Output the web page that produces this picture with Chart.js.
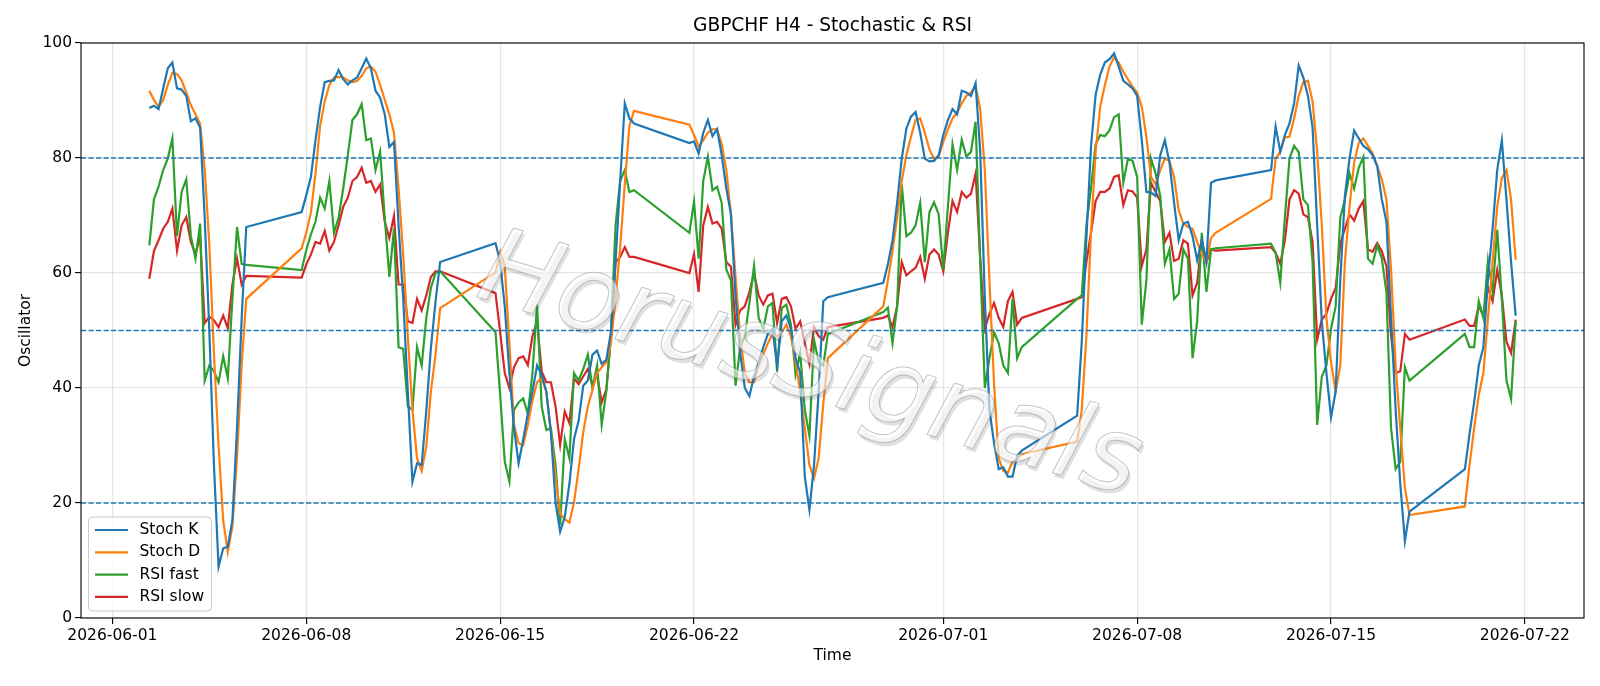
<!DOCTYPE html>
<html>
<head>
<meta charset="utf-8">
<script src="https://cdn.jsdelivr.net/npm/chart.js@4.4.1/dist/chart.umd.min.js"></script>
<style>
  html, body { margin: 0; padding: 0; background: #fff; }
  canvas { display: block; }
</style>
</head>
<body>
<canvas id="chart" width="1600" height="686"></canvas>
<script>
// GBPCHF H4 - Stochastic & RSI

// 4H sessions: first bar of each trading week and number of bars in it
var sessionStarts = ['2026-06-02T08:00Z', '2026-06-07T20:00Z', '2026-06-14T20:00Z', '2026-06-21T20:00Z',
                     '2026-06-28T20:00Z', '2026-07-05T20:00Z', '2026-07-12T20:00Z', '2026-07-19T20:00Z'];
var sessionBars = [22, 31, 31, 31, 31, 31, 31, 12];

var tickDates = ['2026-06-01', '2026-06-08', '2026-06-15', '2026-06-22',
                 '2026-07-01', '2026-07-08', '2026-07-15', '2026-07-22'];
var yTicks = [0, 20, 40, 60, 80, 100];
var refLevels = [80, 50, 20];

var stochK = [
  88.7, 89.1, 88.5, 92.1, 95.6, 96.6, 92.1, 91.9, 90.8, 86.4, 86.9, 85.3, 69.6, 50.0, 26.6, 8.9, 12.1, 12.4, 17.0, 33.0, 52.0, 68.0,
  70.6, 73.5, 76.7, 83.1, 88.9, 93.2, 93.4, 93.5, 95.3, 93.7, 92.8, 93.5, 94.0, 95.6, 97.3, 95.6, 91.7, 90.5, 87.6, 81.9, 82.8, 68.3, 55.5, 39.4, 23.7, 26.9, 26.6, 36.0, 47.0, 55.0, 61.9,
  65.2, 61.9, 54.2, 42.6, 33.0, 26.9, 31.1, 35.5, 39.4, 43.9, 42.3, 39.4, 32.3, 20.1, 15.0, 17.6, 23.3, 31.1, 34.3, 40.4, 41.3, 45.8, 46.5, 44.2, 44.9, 49.7, 61.9, 76.0, 89.5, 86.9, 86.0,
  82.6, 82.9, 80.8, 84.4, 86.6, 83.8, 85.0, 80.5, 74.7, 70.2, 56.0, 46.0, 40.0, 38.6, 42.0, 44.5, 47.1, 49.4, 50.3, 43.9, 51.6, 52.6, 50.3, 45.2, 42.6, 24.6, 18.8, 26.6, 39.4, 55.1, 55.8,
  58.3, 61.5, 65.7, 72.2, 79.9, 85.1, 87.2, 88.0, 84.4, 79.9, 79.4, 79.5, 80.5, 84.0, 86.6, 88.5, 87.6, 91.7, 91.4, 90.8, 93.0, 81.1, 55.5, 36.2, 30.4, 25.9, 26.2, 24.6, 24.6, 28.2, 29.1,
  35.2, 48.0, 66.0, 82.0, 91.0, 94.5, 96.6, 97.2, 98.2, 95.9, 93.4, 92.8, 92.1, 90.8, 83.1, 74.1, 74.0, 73.4, 80.5, 83.1, 79.2, 72.2, 65.7, 68.6, 68.9, 66.4, 62.2, 65.7, 61.9, 75.7, 76.1,
  77.9, 85.5, 81.1, 84.0, 86.0, 89.5, 96.1, 94.0, 90.8, 85.3, 68.3, 51.6, 42.6, 34.9, 39.4, 58.7, 73.4, 79.9, 84.8, 83.4, 82.1, 81.5, 80.5, 78.6, 72.8, 68.9, 52.2, 36.2, 23.3, 13.4, 18.5,
  25.9, 32.0, 37.5, 43.9, 47.1, 59.0, 67.7, 77.9, 83.1, 72.8, 61.9, 52.6
];
var stochD = [
  91.7, 90.1, 88.9, 90.1, 92.7, 94.8, 94.6, 93.5, 91.4, 89.2, 87.6, 86.0, 78.0, 65.0, 46.0, 30.0, 17.0, 11.5, 16.0, 28.0, 44.0, 55.5,
  64.3, 67.0, 70.5, 77.3, 85.6, 89.8, 92.7, 94.0, 94.1, 94.0, 93.5, 93.2, 93.4, 94.3, 95.6, 95.9, 95.0, 92.7, 90.1, 87.6, 84.4, 74.7, 63.2, 49.0, 36.2, 27.8, 25.6, 29.8, 39.4, 45.8, 53.9,
  60.1, 63.7, 61.2, 47.8, 33.6, 30.4, 30.1, 33.6, 37.8, 41.0, 41.7, 39.4, 32.3, 24.6, 18.2, 17.2, 16.6, 20.1, 25.9, 32.3, 36.8, 39.7, 42.6, 43.6, 44.5, 47.8, 55.5, 64.5, 75.4, 85.6, 88.2,
  85.8, 84.0, 82.0, 83.1, 84.4, 85.0, 85.0, 82.4, 77.9, 70.2, 59.3, 49.0, 42.6, 41.0, 41.0, 43.9, 45.8, 47.8, 49.4, 49.0, 49.7, 51.0, 49.0, 44.5, 39.4, 33.0, 26.6, 24.3, 27.8, 37.2, 45.2,
  54.2, 58.7, 63.8, 69.6, 76.0, 80.5, 83.7, 86.6, 86.9, 84.4, 81.5, 79.9, 80.2, 82.8, 85.0, 86.9, 87.9, 89.5, 90.8, 91.4, 92.4, 88.5, 77.9, 58.7, 40.7, 27.8, 25.6, 25.3, 27.2, 27.5, 28.5,
  30.7, 36.2, 49.0, 67.0, 81.1, 88.9, 92.7, 95.9, 97.5, 96.6, 95.0, 93.7, 92.4, 91.4, 88.9, 83.7, 76.7, 75.4, 77.9, 79.9, 79.5, 76.7, 70.9, 68.6, 68.0, 67.7, 65.4, 63.2, 61.9, 66.1, 67.0,
  72.9, 79.9, 81.1, 83.6, 83.7, 86.9, 90.8, 93.2, 93.4, 89.8, 81.1, 68.3, 52.2, 44.5, 39.4, 43.9, 61.9, 71.5, 79.2, 82.6, 83.4, 82.1, 80.8, 78.6, 76.3, 72.8, 60.6, 43.9, 33.0, 22.7, 17.9,
  19.4, 26.6, 33.0, 38.8, 42.6, 52.2, 61.9, 71.5, 76.5, 77.9, 72.8, 62.3
];
var rsiFast = [
  64.8, 72.8, 75.0, 77.9, 79.9, 83.4, 66.4, 74.1, 76.3, 66.4, 62.5, 68.6, 41.3, 43.9, 42.9, 41.0, 45.5, 41.7, 55.5, 68.0, 61.6, 61.4,
  60.5, 64.0, 66.7, 68.9, 73.1, 71.2, 76.0, 67.0, 69.6, 74.7, 80.5, 86.6, 87.6, 89.4, 83.1, 83.4, 77.9, 81.1, 69.6, 59.3, 67.7, 47.1, 46.8, 36.8, 36.2, 47.1, 43.9, 52.2, 57.4, 60.0, 60.3,
  49.7, 38.8, 27.2, 23.7, 36.2, 37.5, 38.2, 35.5, 42.6, 54.5, 36.8, 32.7, 33.0, 26.6, 16.2, 31.1, 27.8, 42.6, 41.3, 43.3, 45.8, 40.0, 43.9, 33.6, 39.4, 49.0, 68.3, 76.0, 77.9, 74.1, 74.4,
  67.0, 72.4, 62.5, 76.0, 80.2, 74.4, 75.0, 72.2, 60.6, 58.7, 40.4, 47.1, 49.0, 54.8, 61.2, 52.2, 50.3, 54.2, 54.8, 42.9, 53.9, 54.5, 51.0, 42.3, 46.1, 36.2, 31.7, 48.4, 44.5, 43.9, 49.4,
  53.2, 54.0, 47.8, 54.2, 75.4, 66.4, 67.0, 68.3, 72.2, 61.9, 70.6, 72.3, 70.2, 60.6, 71.5, 82.4, 77.9, 83.2, 80.2, 81.1, 86.3, 61.9, 40.0, 45.2, 49.7, 47.8, 43.9, 42.6, 55.5, 45.2, 47.1,
  55.5, 56.1, 68.3, 74.7, 82.4, 84.0, 83.8, 84.8, 87.1, 87.6, 75.7, 79.9, 79.5, 76.7, 51.0, 58.7, 79.9, 77.3, 73.4, 61.6, 64.1, 55.5, 56.4, 64.1, 62.5, 45.2, 51.6, 67.0, 56.7, 64.1, 64.3,
  65.1, 63.5, 58.3, 69.6, 79.9, 82.1, 81.0, 72.8, 71.8, 61.9, 33.6, 42.0, 43.9, 50.3, 54.2, 69.6, 72.8, 77.3, 74.7, 78.3, 80.2, 62.5, 61.6, 64.8, 62.5, 56.7, 33.0, 25.9, 27.2, 43.6, 41.3,
  49.4, 47.1, 47.1, 55.1, 52.2, 62.2, 56.7, 67.5, 55.5, 41.3, 38.1, 51.6
];
var rsiSlow = [
  59.0, 63.8, 65.7, 67.7, 68.9, 71.2, 63.9, 68.3, 69.7, 65.4, 63.3, 66.4, 51.3, 52.4, 51.8, 50.6, 52.6, 50.4, 58.0, 62.5, 58.0, 59.5,
  59.2, 61.5, 63.2, 65.4, 65.1, 67.3, 63.9, 65.4, 68.3, 71.5, 73.1, 76.0, 76.7, 78.3, 75.7, 76.0, 74.1, 75.4, 68.9, 66.1, 69.9, 58.0, 58.0, 51.6, 51.3, 55.5, 53.5, 56.1, 59.3, 60.3, 60.3,
  56.5, 49.7, 42.6, 40.0, 43.6, 45.2, 45.5, 44.0, 49.0, 51.6, 42.9, 41.0, 41.0, 36.8, 30.1, 35.9, 33.9, 41.7, 40.7, 42.0, 43.3, 40.4, 42.3, 37.5, 39.7, 49.0, 61.9, 62.8, 64.5, 62.8, 62.8,
  60.0, 63.3, 56.7, 68.3, 71.5, 68.6, 68.9, 67.7, 61.9, 61.1, 51.0, 53.5, 54.2, 56.7, 60.0, 56.1, 54.5, 56.1, 56.4, 51.3, 55.5, 55.8, 54.2, 50.3, 51.6, 47.8, 44.2, 50.6, 49.0, 48.4, 50.6,
  52.2, 52.6, 50.6, 54.2, 61.9, 59.6, 60.3, 60.9, 62.8, 59.0, 63.2, 64.1, 63.2, 60.3, 67.0, 72.5, 70.6, 74.1, 73.1, 73.8, 77.3, 62.5, 50.3, 52.9, 54.8, 52.2, 50.6, 55.1, 56.7, 51.0, 52.2,
  55.5, 55.8, 61.9, 67.0, 72.5, 74.1, 74.1, 74.7, 76.7, 77.0, 71.8, 74.4, 74.2, 73.1, 61.2, 64.1, 75.7, 74.1, 72.5, 65.4, 67.0, 62.1, 62.5, 65.7, 65.1, 56.1, 58.3, 65.7, 61.9, 64.1, 63.9,
  64.5, 63.5, 61.6, 65.7, 72.8, 74.4, 73.8, 70.2, 69.7, 65.4, 48.4, 51.9, 52.9, 55.5, 57.4, 65.1, 67.7, 70.2, 69.1, 71.2, 72.5, 64.1, 63.7, 65.2, 63.8, 61.2, 49.0, 42.6, 42.9, 49.4, 48.4,
  51.9, 50.8, 50.8, 54.2, 52.6, 57.4, 55.1, 60.5, 56.1, 48.1, 46.1, 51.9
];

var seriesNames = ['Stoch K', 'Stoch D', 'RSI fast', 'RSI slow'];
var seriesColors = ['#1f77b4', '#ff7f0e', '#2ca02c', '#d62728'];
var watermarkText = 'HorusSignals';

// bar times, 4 hours apart inside each session
var HOUR = 3600 * 1000;
var times = [];
sessionStarts.forEach(function(s, i) {
  var t0 = Date.parse(s);
  for (var k = 0; k < sessionBars[i]; k++) times.push(t0 + k * 4 * HOUR);
});

function toPoints(values) {
  return values.map(function(v, i) { return { x: times[i], y: v }; });
}

var span = times[times.length - 1] - times[0];
var xMin = times[0] - 0.05 * span;
var xMax = times[times.length - 1] + 0.05 * span;

var FONT = 'DejaVu Sans';
Chart.defaults.font.family = FONT;
Chart.defaults.color = '#000';

var gridColor = 'rgba(176, 176, 176, 0.32)';

/**
 * Title, axis titles, reference lines, spines, legend and watermark
 */
var decorPlugin = {
  id: 'decor',
  afterDatasetsDraw: function(chart) {
    var ctx = chart.ctx;
    var area = chart.chartArea;
    var yScale = chart.scales.y;

    // dashed reference levels
    ctx.save();
    ctx.beginPath();
    ctx.rect(area.left, area.top, area.right - area.left, area.bottom - area.top);
    ctx.clip();
    ctx.strokeStyle = '#1f77b4';
    ctx.lineWidth = 1.4;
    ctx.setLineDash([5.2, 2.3]);
    refLevels.forEach(function(level) {
      var y = yScale.getPixelForValue(level);
      ctx.beginPath();
      ctx.moveTo(area.left, y);
      ctx.lineTo(area.right, y);
      ctx.stroke();
    });
    ctx.restore();

    // spines
    ctx.save();
    ctx.strokeStyle = '#000';
    ctx.lineWidth = 1.1;
    ctx.strokeRect(area.left, area.top, area.right - area.left, area.bottom - area.top);
    ctx.restore();

    // watermark
    ctx.save();
    ctx.translate(474, 296);
    ctx.rotate(17 * Math.PI / 180);
    ctx.font = 'oblique 105px "' + FONT + '"';
    ctx.textBaseline = 'alphabetic';
    ctx.textAlign = 'left';
    ctx.lineJoin = 'round';
    ctx.fillStyle = 'rgba(60, 60, 60, 0.16)';
    ctx.fillText(watermarkText, 3, 3);
    ctx.fillStyle = 'rgba(255, 255, 255, 0.6)';
    ctx.fillText(watermarkText, 0, 0);
    ctx.strokeStyle = 'rgba(140, 140, 140, 0.5)';
    ctx.lineWidth = 1;
    ctx.strokeText(watermarkText, 0, 0);
    ctx.restore();

    // legend
    var lx = 88.5, ly = 517, lw = 123, lh = 94, r = 4;
    ctx.save();
    ctx.beginPath();
    ctx.moveTo(lx + r, ly);
    ctx.lineTo(lx + lw - r, ly);
    ctx.quadraticCurveTo(lx + lw, ly, lx + lw, ly + r);
    ctx.lineTo(lx + lw, ly + lh - r);
    ctx.quadraticCurveTo(lx + lw, ly + lh, lx + lw - r, ly + lh);
    ctx.lineTo(lx + r, ly + lh);
    ctx.quadraticCurveTo(lx, ly + lh, lx, ly + lh - r);
    ctx.lineTo(lx, ly + r);
    ctx.quadraticCurveTo(lx, ly, lx + r, ly);
    ctx.closePath();
    ctx.fillStyle = 'rgba(255, 255, 255, 0.8)';
    ctx.fill();
    ctx.strokeStyle = '#cccccc';
    ctx.lineWidth = 1;
    ctx.stroke();
    ctx.font = '15.5px "' + FONT + '"';
    ctx.textBaseline = 'middle';
    ctx.textAlign = 'left';
    chart.data.datasets.forEach(function(ds, i) {
      var y = 530 + i * 22.3;
      ctx.strokeStyle = ds.borderColor;
      ctx.lineWidth = 2.2;
      ctx.beginPath();
      ctx.moveTo(95, y);
      ctx.lineTo(128, y);
      ctx.stroke();
      ctx.fillStyle = '#000';
      ctx.fillText(ds.label, 139.5, y);
    });
    ctx.restore();
  },
  afterDraw: function(chart) {
    var ctx = chart.ctx;
    var area = chart.chartArea;
    var cx = (area.left + area.right) / 2;
    ctx.save();
    ctx.fillStyle = '#000';
    ctx.textAlign = 'center';
    ctx.textBaseline = 'middle';
    ctx.font = '18.6px "' + FONT + '"';
    ctx.fillText('GBPCHF H4 - Stochastic & RSI', cx, 26);
    ctx.font = '15.5px "' + FONT + '"';
    ctx.fillText('Time', cx, 656);
    ctx.translate(25.5, (area.top + area.bottom) / 2);
    ctx.rotate(-Math.PI / 2);
    ctx.fillText('Oscillator', 0, 0);
    ctx.restore();
  }
};

var datasets = [stochK, stochD, rsiFast, rsiSlow].map(function(values, i) {
  return {
    label: seriesNames[i],
    data: toPoints(values),
    borderColor: seriesColors[i],
    backgroundColor: seriesColors[i],
    borderWidth: 2.2,
    pointRadius: 0,
    tension: 0,
    fill: false
  };
});

var chart = new Chart(document.getElementById('chart').getContext('2d'), {
  type: 'line',
  data: { datasets: datasets },
  options: {
    responsive: false,
    animation: false,
    devicePixelRatio: 1,
    layout: { padding: { left: 0, right: 16, top: 43, bottom: 0 } },
    plugins: {
      legend: { display: false },
      title: { display: false },
      tooltip: { enabled: false }
    },
    scales: {
      x: {
        type: 'linear',
        min: xMin,
        max: xMax,
        offset: false,
        afterBuildTicks: function(scale) {
          scale.ticks = tickDates.map(function(d) { return { value: Date.parse(d + 'T00:00Z') }; });
        },
        afterFit: function(scale) { scale.height = 68; },
        ticks: {
          autoSkip: false,
          maxRotation: 0,
          padding: 3,
          color: '#000',
          font: { size: 15.5 },
          callback: function(value) {
            return new Date(value).toISOString().slice(0, 10);
          }
        },
        grid: { color: gridColor, lineWidth: 1.2, tickColor: '#000', tickLength: 6, tickWidth: 1.1 },
        border: { display: false }
      },
      y: {
        min: 0,
        max: 100,
        afterBuildTicks: function(scale) {
          scale.ticks = yTicks.map(function(v) { return { value: v }; });
        },
        afterFit: function(scale) { scale.width = 81; },
        ticks: {
          padding: 3,
          color: '#000',
          font: { size: 15.5 }
        },
        grid: { color: gridColor, lineWidth: 1.2, tickColor: '#000', tickLength: 6, tickWidth: 1.1 },
        border: { display: false }
      }
    }
  },
  plugins: [decorPlugin]
});
</script>
</body>
</html>
